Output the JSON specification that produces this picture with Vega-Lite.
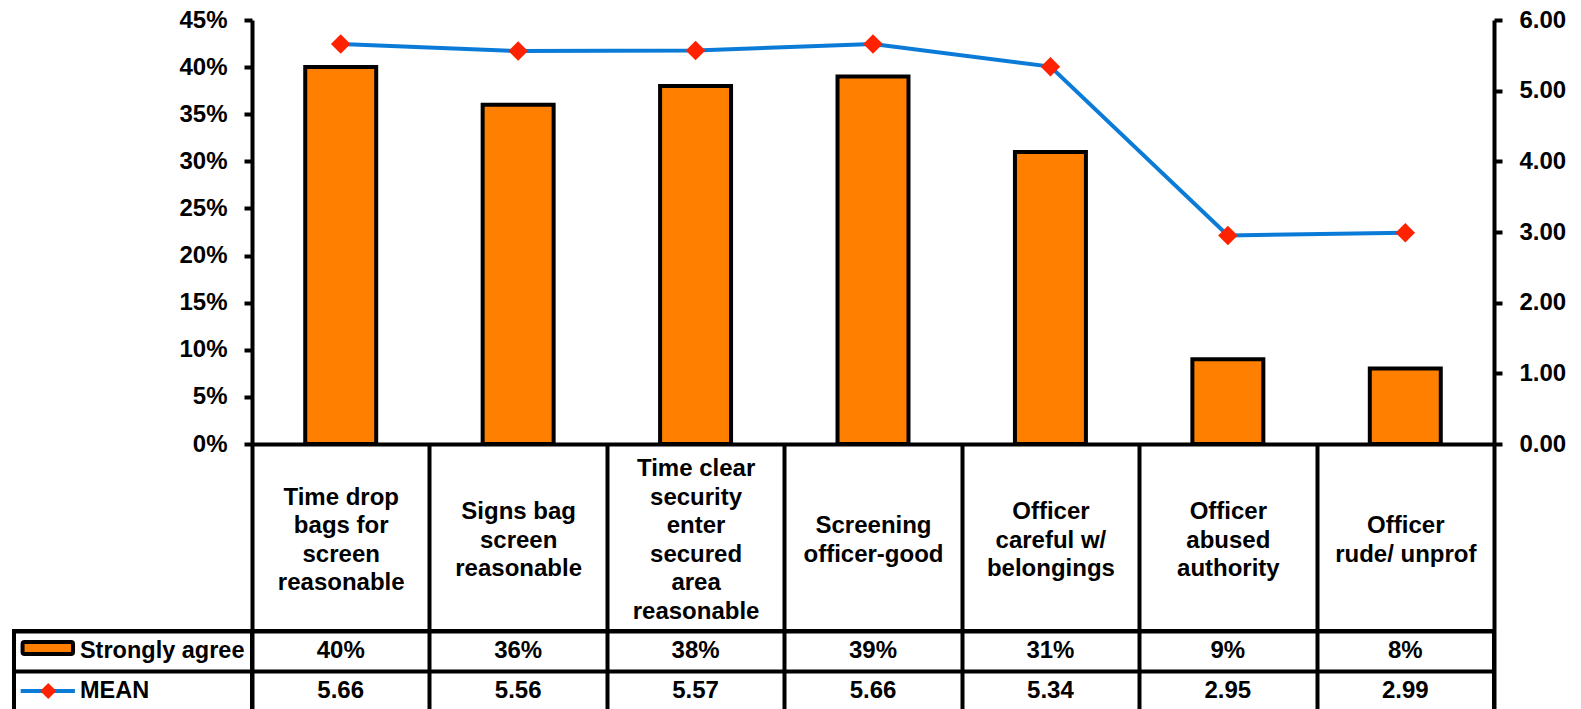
{
  "$schema": "https://vega.github.io/schema/vega-lite/v6.json",
  "padding": {"left": 12, "top": 8, "right": 5, "bottom": 0},
  "config": {
    "font": "Liberation Sans",
    "view": {"stroke": null},
    "axis": {
      "labelFont": "Liberation Sans",
      "labelFontSize": 24,
      "labelFontWeight": "bold",
      "labelColor": "black",
      "domainColor": "black",
      "tickColor": "black",
      "domainWidth": 4,
      "tickWidth": 4,
      "grid": false
    },
    "text": {"font": "Liberation Sans", "fontSize": 24, "fontWeight": "bold", "color": "black"}
  },
  "datasets": {
    "survey": [
      {"question": "Time drop bags for screen reasonable", "agree": 0.40, "mean": 5.66},
      {"question": "Signs bag screen reasonable", "agree": 0.36, "mean": 5.56},
      {"question": "Time clear security enter secured area reasonable", "agree": 0.38, "mean": 5.57},
      {"question": "Screening officer-good", "agree": 0.39, "mean": 5.66},
      {"question": "Officer careful w/ belongings", "agree": 0.31, "mean": 5.34},
      {"question": "Officer abused authority", "agree": 0.09, "mean": 2.95},
      {"question": "Officer rude/ unprof", "agree": 0.08, "mean": 2.99}
    ],
    "series": [
      {"series": "Strongly agree"},
      {"series": "MEAN"}
    ]
  },
  "columns": 2,
  "spacing": {"row": 187, "column": 0},
  "bounds": "flush",
  "concat": [
    {
      "width": 238,
      "height": 424,
      "data": {"values": []},
      "mark": "point"
    },
    {
      "width": 1242,
      "height": 424,
      "data": {"name": "survey"},
      "encoding": {
        "x": {
          "field": "question",
          "type": "nominal",
          "sort": null,
          "title": null,
          "scale": {"paddingInner": 0, "paddingOuter": 0},
          "axis": {
            "orient": "bottom",
            "tickBand": "extent",
            "tickSize": 187,
            "tickWidth": 4,
            "labelAngle": 0,
            "labelPadding": {
              "condition": [
                {"test": "datum.value == 'Time drop bags for screen reasonable'", "value": -133.75},
                {"test": "datum.value == 'Time clear security enter secured area reasonable'", "value": -162.25},
                {"test": "datum.value == 'Screening officer-good' || datum.value == 'Officer rude/ unprof'", "value": -105.25}
              ],
              "value": -119.5
            },
            "labelBaseline": "middle",
            "labelAlign": "center",
            "labelLineHeight": 28.5,
            "labelLimit": 0,
            "labelOverlap": false,
            "labelBound": false,
            "labelExpr": "datum.label == 'Time drop bags for screen reasonable' ? ['Time drop','bags for','screen','reasonable'] : datum.label == 'Signs bag screen reasonable' ? ['Signs bag','screen','reasonable'] : datum.label == 'Time clear security enter secured area reasonable' ? ['Time clear','security','enter','secured','area','reasonable'] : datum.label == 'Screening officer-good' ? ['Screening','officer-good'] : datum.label == 'Officer careful w/ belongings' ? ['Officer','careful w/','belongings'] : datum.label == 'Officer abused authority' ? ['Officer','abused','authority'] : datum.label == 'Officer rude/ unprof' ? ['Officer','rude/ unprof'] : ''"
          }
        }
      },
      "layer": [
        {
          "mark": {"type": "bar", "fill": "#FF7F00", "stroke": "black", "strokeWidth": 4, "width": {"band": 0.4}},
          "encoding": {
            "y": {
              "field": "agree",
              "type": "quantitative",
              "title": null,
              "scale": {"domain": [0, 0.45], "nice": false},
              "axis": {
                "orient": "left",
                "format": ".0%",
                "values": [0, 0.05, 0.1, 0.15, 0.2, 0.25, 0.3, 0.35, 0.4, 0.45],
                "tickSize": 8,
                "labelPadding": 17
              }
            }
          }
        },
        {
          "encoding": {
            "y": {
              "field": "mean",
              "type": "quantitative",
              "title": null,
              "scale": {"domain": [0, 6], "nice": false},
              "axis": {
                "orient": "right",
                "format": ".2f",
                "values": [0, 1, 2, 3, 4, 5, 6],
                "tickSize": 8,
                "labelPadding": 17
              }
            }
          },
          "layer": [
            {"mark": {"type": "line", "color": "#0B7BD8", "strokeWidth": 4}},
            {"mark": {"type": "point", "shape": "diamond", "filled": true, "fill": "#FF2200", "size": 380, "opacity": 1, "strokeWidth": 0}}
          ]
        }
      ],
      "resolve": {"scale": {"y": "independent"}}
    },
    {
      "width": 238,
      "height": 80,
      "data": {"name": "series"},
      "view": {"stroke": "black", "strokeWidth": 4},
      "encoding": {
        "y": {
          "field": "series",
          "type": "nominal",
          "sort": null,
          "title": null,
          "scale": {"domain": ["Strongly agree", "MEAN"], "paddingInner": 0, "paddingOuter": 0},
          "axis": {"grid": true, "tickBand": "extent", "gridColor": "black", "gridWidth": 4, "gridOpacity": 1, "labels": false, "ticks": false, "domain": false}
        }
      },
      "layer": [
        {
          "transform": [{"filter": "datum.series == 'Strongly agree'"}],
          "mark": {"type": "bar", "fill": "#FF7F00", "stroke": "black", "strokeWidth": 4, "height": 12, "cornerRadius": 2, "yOffset": -3},
          "encoding": {
            "x": {"datum": 0.036, "type": "quantitative", "scale": {"domain": [0, 1], "nice": false, "zero": false}, "axis": null},
            "x2": {"datum": 0.248}
          }
        },
        {
          "transform": [{"filter": "datum.series == 'MEAN'"}],
          "mark": {"type": "rule", "color": "#0B7BD8", "strokeWidth": 4},
          "encoding": {
            "x": {"datum": 0.028, "type": "quantitative", "scale": {"domain": [0, 1], "nice": false, "zero": false}, "axis": null},
            "x2": {"datum": 0.256}
          }
        },
        {
          "transform": [{"filter": "datum.series == 'MEAN'"}],
          "mark": {"type": "point", "shape": "diamond", "filled": true, "fill": "#FF2200", "size": 256, "opacity": 1, "strokeWidth": 0},
          "encoding": {
            "x": {"datum": 0.144, "type": "quantitative", "scale": {"domain": [0, 1], "nice": false, "zero": false}, "axis": null}
          }
        },
        {
          "mark": {"type": "text", "align": "left", "baseline": "middle", "fontSize": 23.5, "fontWeight": "bold", "color": "black"},
          "encoding": {
            "x": {"datum": 0.277, "type": "quantitative", "scale": {"domain": [0, 1], "nice": false, "zero": false}, "axis": null},
            "text": {"field": "series"}
          }
        }
      ]
    },
    {
      "width": 1242,
      "height": 80,
      "data": {"name": "survey"},
      "view": {"stroke": "black", "strokeWidth": 4},
      "encoding": {
        "x": {
          "field": "question",
          "type": "nominal",
          "sort": null,
          "title": null,
          "scale": {"paddingInner": 0, "paddingOuter": 0},
          "axis": {"grid": true, "tickBand": "extent", "gridColor": "black", "gridWidth": 4, "gridOpacity": 1, "labels": false, "ticks": false, "domain": false}
        }
      },
      "layer": [
        {
          "mark": {"type": "text", "align": "center", "baseline": "middle", "fontSize": 24, "fontWeight": "bold", "color": "black"},
          "encoding": {
            "y": {
              "datum": "Strongly agree",
              "type": "nominal",
              "title": null,
              "scale": {"domain": ["Strongly agree", "MEAN"], "paddingInner": 0, "paddingOuter": 0},
              "axis": {"grid": true, "tickBand": "extent", "gridColor": "black", "gridWidth": 4, "gridOpacity": 1, "labels": false, "ticks": false, "domain": false}
            },
            "text": {"field": "agree", "type": "quantitative", "format": ".0%"}
          }
        },
        {
          "mark": {"type": "text", "align": "center", "baseline": "middle", "fontSize": 24, "fontWeight": "bold", "color": "black"},
          "encoding": {
            "y": {"datum": "MEAN", "type": "nominal"},
            "text": {"field": "mean", "type": "quantitative", "format": ".2f"}
          }
        }
      ]
    }
  ]
}
